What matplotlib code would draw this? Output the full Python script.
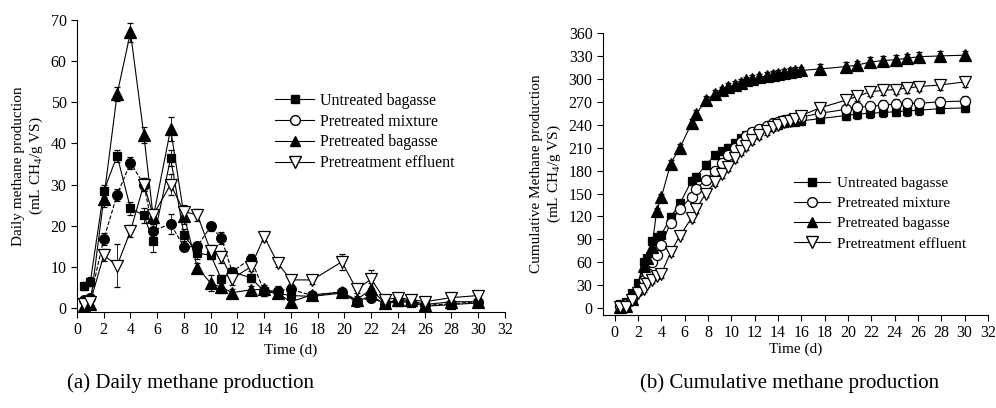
import matplotlib
matplotlib.use('Agg')
import matplotlib.pyplot as plt
from matplotlib.lines import Line2D

plt.rcParams['font.family'] = ['Liberation Serif', 'DejaVu Serif']
plt.rcParams['mathtext.fontset'] = 'custom'
plt.rcParams['mathtext.rm'] = 'Liberation Serif'

labels = ['Untreated bagasse', 'Pretreated mixture', 'Pretreated bagasse', 'Pretreatment effluent']

# (a) daily methane production
t_daily = [0.5, 1, 2, 3, 4, 5, 5.7, 7, 8, 9, 10, 10.8, 11.6, 13, 14, 15, 16, 17.6, 19.8, 20.9,
           22, 23, 24, 25, 26, 28, 30]
untreated_d = [5.3, 6.4, 28.4, 37.0, 24.2, 22.5, 16.2, 36.4, 17.7, 13.3, 12.8, 7.0, 8.8, 7.3,
               4.0, 3.5, 3.0, 2.8, 3.6, 1.5, 3.0, 1.0, 1.5, 1.3, 0.4, 0.8, 1.2]
mixture_d = [1.8, 2.3, 16.7, 27.5, 35.3, 30.0, 18.8, 20.4, 14.8, 15.0, 19.8, 17.0, 8.8, 12.0,
             4.0, 4.2, 4.5, 3.0, 3.9, 1.5, 2.5, 1.0, 1.8, 1.5, 0.6, 1.0, 1.5]
bagasse_d = [0.5, 1.0, 26.5, 52.0, 67.0, 42.0, 22.0, 43.5, 22.4, 9.8, 6.0, 5.0, 3.7, 4.4,
             4.5, 3.5, 1.5, 3.2, 3.8, 2.0, 4.5, 1.2, 2.0, 1.8, 0.8, 1.5, 1.5]
effluent_d = [1.0, 1.5, 12.8, 10.3, 18.7, 30.0, 22.6, 30.0, 23.4, 22.6, 13.8, 12.4, 7.1, 10.0,
              17.3, 10.9, 6.8, 6.8, 11.2, 4.5, 7.0, 2.0, 2.5, 2.0, 1.5, 2.5, 3.0]
untreated_d_err = [1.0, 1.0, 1.5, 1.5, 1.5, 1.8, 2.5, 2.0, 1.5, 1.5, 1.0, 1.0, 1.0, 1.0,
                   1.0, 1.0, 2.0, 1.0, 1.0, 1.0, 1.0, 0.5, 0.5, 0.5, 0.5, 0.5, 0.5]
mixture_d_err = [1.0, 1.0, 1.5, 1.5, 1.5, 1.5, 1.5, 2.5, 1.0, 1.0, 1.0, 1.5, 1.0, 1.0,
                 1.0, 1.0, 1.0, 1.0, 1.0, 1.0, 1.0, 0.5, 0.5, 0.5, 0.5, 0.5, 0.5]
bagasse_d_err = [0.5, 0.5, 2.0, 1.8, 2.3, 2.0, 1.5, 3.0, 2.0, 1.0, 2.0, 1.5, 1.0, 1.0,
                 1.0, 1.0, 1.0, 1.0, 1.0, 1.0, 1.5, 0.5, 0.5, 0.5, 0.5, 0.5, 0.5]
effluent_d_err = [0.5, 0.5, 1.5, 5.3, 1.5, 1.5, 1.5, 2.5, 1.5, 1.5, 1.5, 1.5, 1.5, 1.0,
                  1.0, 1.0, 1.0, 1.0, 2.0, 1.0, 2.2, 0.5, 0.5, 0.5, 0.5, 0.5, 0.5]

# (b) cumulative methane production
t_cum = [0.5, 1.0, 1.5, 2.0, 2.5, 2.8, 3.2, 3.6, 4.0, 4.8, 5.6, 6.6, 7.0, 7.8, 8.6, 9.2, 9.7,
         10.3, 10.8, 11.3, 11.8, 12.4, 13.1, 13.6, 14.0, 14.5, 15.0, 15.5, 16.0, 17.6, 19.8,
         20.8, 21.9, 23.0, 24.1, 25.1, 26.1, 27.9, 30.0]
untreated_c = [5, 8, 20, 33, 60, 65, 88, 93, 96, 119, 137, 167, 172, 187, 200, 205, 210,
               216, 222, 226, 230, 233, 237, 239, 240, 242, 243, 244, 245, 248, 252,
               254, 255, 256, 257, 258, 259, 261, 262]
mixture_c = [3, 5, 12, 22, 37, 46, 60, 70, 82, 112, 130, 146, 156, 168, 180, 190, 200,
             210, 218, 225, 230, 235, 238, 242, 244, 246, 248, 249, 250, 255, 260,
             263, 264, 266, 267, 268, 268, 270, 271]
bagasse_c = [2, 3, 12, 30, 55, 65, 80, 127, 145, 189, 210, 242, 254, 272, 280, 285, 289,
             292, 295, 298, 300, 302, 304, 305, 307, 308, 309, 310, 311, 313, 316,
             318, 322, 324, 325, 327, 329, 330, 331]
effluent_c = [1, 2, 10, 20, 25, 32, 37, 42, 45, 73, 95, 118, 130, 150, 165, 175, 185,
              196, 205, 212, 220, 226, 232, 237, 240, 243, 245, 248, 252, 262, 272,
              277, 283, 285, 286, 288, 290, 292, 296]
cum_err = [2, 2, 3, 3, 4, 4, 4, 4, 5, 5, 5, 5, 5, 5, 5, 5, 5,
           5, 5, 5, 5, 5, 5, 5, 5, 5, 5, 5, 5, 6, 6,
           6, 6, 6, 6, 6, 6, 6, 6]

fig = plt.figure(figsize=(9.96, 4.08), dpi=100)
ax1 = fig.add_axes([0.0773, 0.2353, 0.4297, 0.7157])
ax2 = fig.add_axes([0.6054, 0.2279, 0.3865, 0.6912])

styles = [
    dict(marker='s', mfc='black', ms=6.3),
    dict(marker='o', mfc='black', ms=7),
    dict(marker='^', mfc='black', ms=8),
    dict(marker='v', mfc='white', ms=8.5),
]

daily = [(untreated_d, untreated_d_err), (mixture_d, mixture_d_err),
         (bagasse_d, bagasse_d_err), (effluent_d, effluent_d_err)]
for (vals, err), st, ls in zip(daily, styles, ['-', '--', '-', '-']):
    ax1.errorbar(t_daily, vals, yerr=err, color='black', ls=ls, lw=0.8,
                 marker=st['marker'], mfc=st['mfc'], mec='black', mew=0.9, ms=st['ms'],
                 ecolor='black', elinewidth=0.6, capsize=2, capthick=0.6)

cumul = [untreated_c, mixture_c, bagasse_c, effluent_c]
cum_styles = [
    dict(marker='s', mfc='black', ms=6.3),
    dict(marker='o', mfc='white', ms=7.3),
    dict(marker='^', mfc='black', ms=8),
    dict(marker='v', mfc='white', ms=8.5),
]
for vals, st in zip(cumul, cum_styles):
    ax2.errorbar(t_cum, vals, yerr=cum_err, color='black', ls='-', lw=0.8,
                 marker=st['marker'], mfc=st['mfc'], mec='black', mew=0.9, ms=st['ms'],
                 ecolor='black', elinewidth=0.6, capsize=2, capthick=0.6)

for ax in (ax1, ax2):
    ax.spines['top'].set_visible(False)
    ax.spines['right'].set_visible(False)
    ax.tick_params(direction='out', length=4, width=0.8, labelsize=11.5)
    ax.set_xticks(range(0, 33, 2))

ax1.set_xlim(0, 32)
ax1.set_ylim(-1, 70)
ax1.set_yticks(range(0, 71, 10))
ax1.set_xlabel('Time (d)', fontsize=11)
ax1.set_ylabel('Daily methane production\n(mL CH$_4$/g VS)', fontsize=11, linespacing=1.25)

ax2.set_xlim(-1, 32)
ax2.set_ylim(-9, 360)
ax2.set_yticks(range(0, 361, 30))
ax2.set_xlabel('Time (d)', fontsize=11, labelpad=1)
ax2.set_ylabel('Cumulative Methane production\n(mL CH$_4$/g VS)', fontsize=11, linespacing=1.25)

handles = [Line2D([], [], color='black', lw=0.8, marker=m, mfc=f, mec='black', ms=s)
           for m, f, s in [('s', 'black', 6), ('o', 'white', 7), ('^', 'black', 7.5), ('v', 'white', 8)]]
ax1.legend(handles, labels, loc='upper left', bbox_to_anchor=(0.43, 0.80), frameon=False,
           fontsize=11.5, handlelength=2.4, handletextpad=0.4, labelspacing=0.3)
ax2.legend(handles, labels, loc='upper left', bbox_to_anchor=(0.46, 0.54), frameon=False,
           fontsize=11, handlelength=2.4, handletextpad=0.4, labelspacing=0.42)

fig.text(190 / 996, 1 - 383 / 408, '(a) Daily methane production', fontsize=15,
         ha='center', va='center')
fig.text(790 / 996, 1 - 383 / 408, '(b) Cumulative methane production', fontsize=15,
         ha='center', va='center')

plt.savefig('out.png', dpi=100)
plt.close()
